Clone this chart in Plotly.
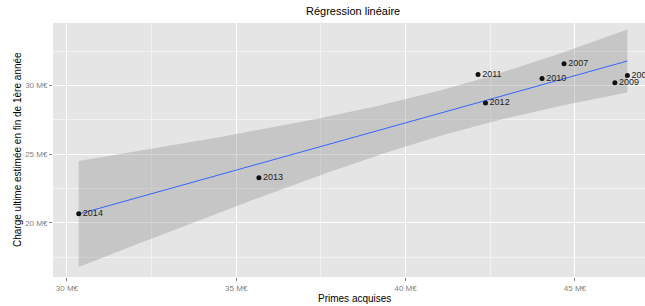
import numpy as np
import plotly.graph_objects as go

# ---- data ----
years = ["2007", "2008", "2009", "2010", "2011", "2012", "2013", "2014"]
primes = [44.68, 46.55, 46.18, 44.03, 42.14, 42.36, 35.67, 30.35]   # M€
charge = [31.60, 30.73, 30.20, 30.51, 30.80, 28.74, 23.28, 20.66]   # M€

x_tickvals = [30, 35, 40, 45]
x_ticktext = ["30 M€", "35 M€", "40 M€", "45 M€"]
y_tickvals = [20, 25, 30]
y_ticktext = ["20 M€", "25 M€", "30 M€"]

title_text = "Régression linéaire"
x_title = "Primes acquises"
y_title = "Charge ultime estimée en fin de 1ère année"

# ---- linear regression with 99% confidence band (like geom_smooth(method="lm", level=.99)) ----
x = np.array(primes)
y = np.array(charge)
n = len(x)
slope, intercept = np.polyfit(x, y, 1)
resid = y - (slope * x + intercept)
s = np.sqrt(np.sum(resid ** 2) / (n - 2))
sxx = np.sum((x - x.mean()) ** 2)
t_q = 3.7074  # t quantile 0.995, df = 6
xg = np.linspace(x.min(), x.max(), 80)
yg = slope * xg + intercept
se = s * np.sqrt(1 / n + (xg - x.mean()) ** 2 / sxx)
upper = yg + t_q * se
lower = yg - t_q * se

FONT = "Liberation Sans, Arial, sans-serif"
W, H = 645, 306
L, R, T, B = 53, 0, 23, 29

fig = go.Figure()
fig.add_trace(go.Scatter(
    x=np.concatenate([xg, xg[::-1]]), y=np.concatenate([upper, lower[::-1]]),
    fill="toself", fillcolor="rgba(153,153,153,0.4)", line=dict(width=0),
    mode="lines", hoverinfo="skip", showlegend=False))
fig.add_trace(go.Scatter(
    x=xg, y=yg, mode="lines", line=dict(color="#3366FF", width=1),
    showlegend=False))
fig.add_trace(go.Scatter(
    x=primes, y=charge, mode="markers+text", text=years,
    textposition="middle right",
    textfont=dict(family=FONT, size=9, color="#222222"),
    marker=dict(color="#111111", size=5),
    showlegend=False))

fig.update_layout(
    width=W, height=H,
    margin=dict(l=L, r=R, t=T, b=B, autoexpand=False),
    paper_bgcolor="white", plot_bgcolor="#E5E5E5",
    font=dict(family=FONT, color="#000000"),
    showlegend=False,
    annotations=[
        dict(text=title_text, xref="paper", yref="paper",
             x=(353 - L) / (W - L - R), y=1 + (T - 11) / (H - T - B),
             xanchor="center", yanchor="middle", showarrow=False,
             font=dict(size=11, color="#000000")),
        dict(text=x_title, xref="paper", yref="paper",
             x=(354 - L) / (W - L - R), y=-(298 - (H - B)) / (H - T - B),
             xanchor="center", yanchor="middle", showarrow=False,
             font=dict(size=10, color="#000000")),
        dict(text=y_title, xref="paper", yref="paper",
             x=-(L - 17) / (W - L - R), y=0.5, textangle=-90,
             xanchor="center", yanchor="middle", showarrow=False,
             font=dict(size=10, color="#000000")),
    ],
)
fig.update_xaxes(
    range=[29.59, 47.07], tickvals=x_tickvals, ticktext=x_ticktext,
    tickfont=dict(size=8, color="#7F7F7F"),
    ticks="outside", ticklen=3, tickcolor="#7F7F7F", tickwidth=1,
    showgrid=True, gridcolor="white", gridwidth=1.2,
    minor=dict(dtick=2.5, tick0=30, showgrid=True, gridcolor="#F2F2F2", gridwidth=0.6),
    zeroline=False, showline=False, automargin=False,
)
fig.update_yaxes(
    range=[16.06, 34.56], tickvals=y_tickvals, ticktext=y_ticktext,
    tickfont=dict(size=8, color="#7F7F7F"),
    ticks="outside", ticklen=3, tickcolor="#7F7F7F", tickwidth=1,
    showgrid=True, gridcolor="white", gridwidth=1.2,
    minor=dict(dtick=2.5, tick0=20, showgrid=True, gridcolor="#F2F2F2", gridwidth=0.6),
    zeroline=False, showline=False, automargin=False,
)

fig.write_html("out.html", config={"displayModeBar": False},
               post_script="document.body.style.margin='0';")
